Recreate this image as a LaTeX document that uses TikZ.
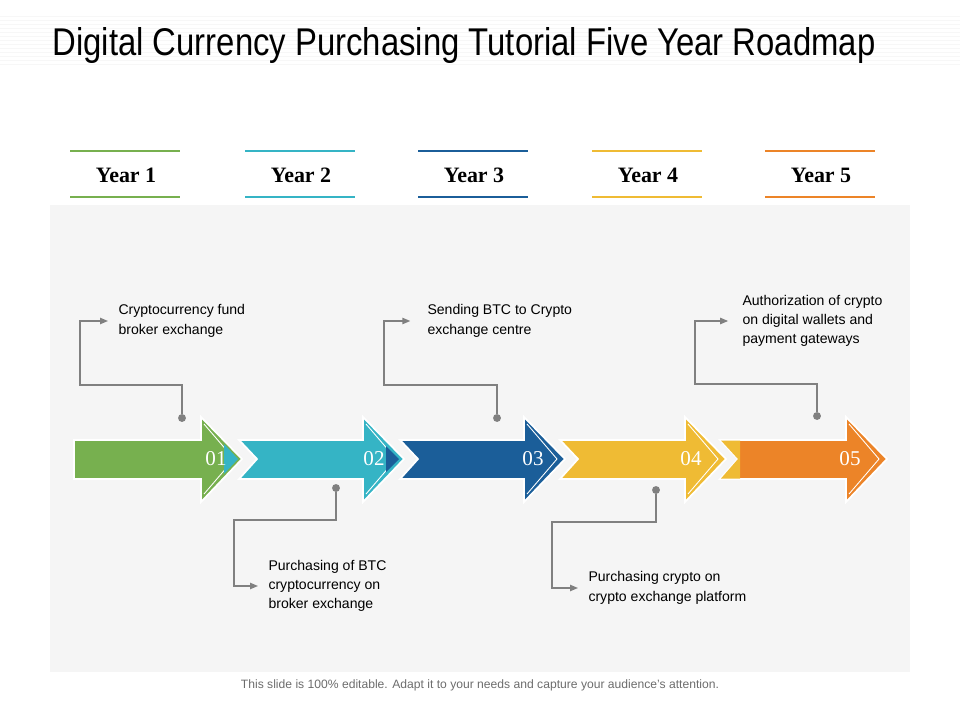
\documentclass[tikz,border=0pt]{standalone}
\usepackage{fontspec}
\setmainfont{Liberation Sans}
\newfontfamily\serifyear{Liberation Serif}
\usetikzlibrary{arrows.meta}
\definecolor{cgreen}{HTML}{77B04F}
\definecolor{ccyan}{HTML}{35B4C5}
\definecolor{cblue}{HTML}{1B5E99}
\definecolor{cyellow}{HTML}{EFBB34}
\definecolor{corange}{HTML}{EC8428}
\definecolor{cgray}{HTML}{808080}
\definecolor{cpanel}{HTML}{F5F5F5}

\begin{document}
\begin{tikzpicture}[x=0.02cm, y=-0.02cm, line width=0.6pt,
    conn/.style={draw=cgray, line width=0.7pt},
    dot/.style={circle, fill=cgray, inner sep=0pt, minimum size=4.5pt},
    note/.style={anchor=west, inner sep=0pt, align=left, font=\fontsize{8}{11}\selectfont},
    yearlabel/.style={font=\serifyear\bfseries\fontsize{12.5}{14}\selectfont},
    numlabel/.style={font=\serifyear\fontsize{12}{14}\selectfont, text=white}]
    \useasboundingbox (0,0) rectangle (960,720);
    % title strip and panel
    \foreach \s in {16,20,...,64} \draw[gray!6, line width=0.4pt] (0,\s) -- (960,\s);
    \fill[cpanel] (50,205) rectangle (910,672);
    \node[anchor=base west, inner sep=0pt, font=\fontsize{22}{26}\selectfont] (title) at (52,55)
      {\scalebox{0.85}[1]{Digital Currency Purchasing Tutorial Five Year Roadmap}};
    % year headers
    \foreach \x/\c/\y [count=\i] in {125/cgreen/1, 300/ccyan/2, 473/cblue/3, 647/cyellow/4, 820/corange/5} {
      \draw[\c, line width=1.7pt] (\x-55,151) -- (\x+55,151);
      \draw[\c, line width=1.7pt] (\x-55,197) -- (\x+55,197);
      \node[yearlabel] (year\i) at (\x+1,175) {Year \y};
    }
    % arrows
    \foreach \b/\t/\n/\c in {201/74/0/cgreen, 363/239/18/ccyan, 524/400/18/cblue, 685/560/18/cyellow, 846/720/18/corange} {
      \filldraw[fill=\c, draw=white, line width=1pt] (\t,440) -- (\b,440) -- (\b,417) -- (\b+41,459)
        -- (\b,502) -- (\b,479) -- (\t,479) -- (\t+\n,459) -- cycle;
      \draw[white, line width=0.5pt] (\b+3,424) -- (\b+33,459) -- (\b+3,494);
    }
    \fill[ccyan] (224,444) -- (238,459) -- (224,474) -- cycle;
    \fill[cblue] (386,446) -- (399,459) -- (386,472) -- cycle;
    \fill[cyellow] (721,440.5) -- (740,440.5) -- (740,478.5) -- (721,478.5) -- (738,459) -- cycle;
    \foreach \x/\num [count=\i] in {216/01, 374/02, 533/03, 691/04, 850/05}
      \node[numlabel] (num\i) at (\x,459) {\num};
    % callouts
    \foreach \dx/\dy/\kx/\ky/\tx/\ty/\sh/\txt [count=\i] in {
        182/418/80/385/118/321/5.7/{Cryptocurrency fund\\broker exchange},
        336/488/234/520/268/586/5.7/{Purchasing of BTC\\cryptocurrency on\\broker exchange},
        497/418/384/385/427/321/9.5/{Sending BTC to Crypto\\exchange centre},
        656/490/552/522/588/588/5.7/{Purchasing crypto on\\crypto exchange platform},
        817/416/695/384/742/321/7.9/{Authorization of crypto\\on digital wallets and\\payment gateways}} {
      \node[dot] (dot\i) at (\dx,\dy) {};
      \coordinate (bend\i) at (\kx,\ky);
      \node[note] (note\i) at (\tx,\ty) {\txt};
      \draw[conn, -{Triangle[length=4.5pt,width=3.6pt]}, shorten >=\sh pt] (dot\i) |- (bend\i) |- (note\i.west);
    }
    \node[font=\fontsize{6.9}{8}\selectfont, text=gray!85!black] (footer) at (480,685)
      {This slide is 100\% editable. Adapt it to your needs and capture your audience's attention.};
\end{tikzpicture}
\end{document}
